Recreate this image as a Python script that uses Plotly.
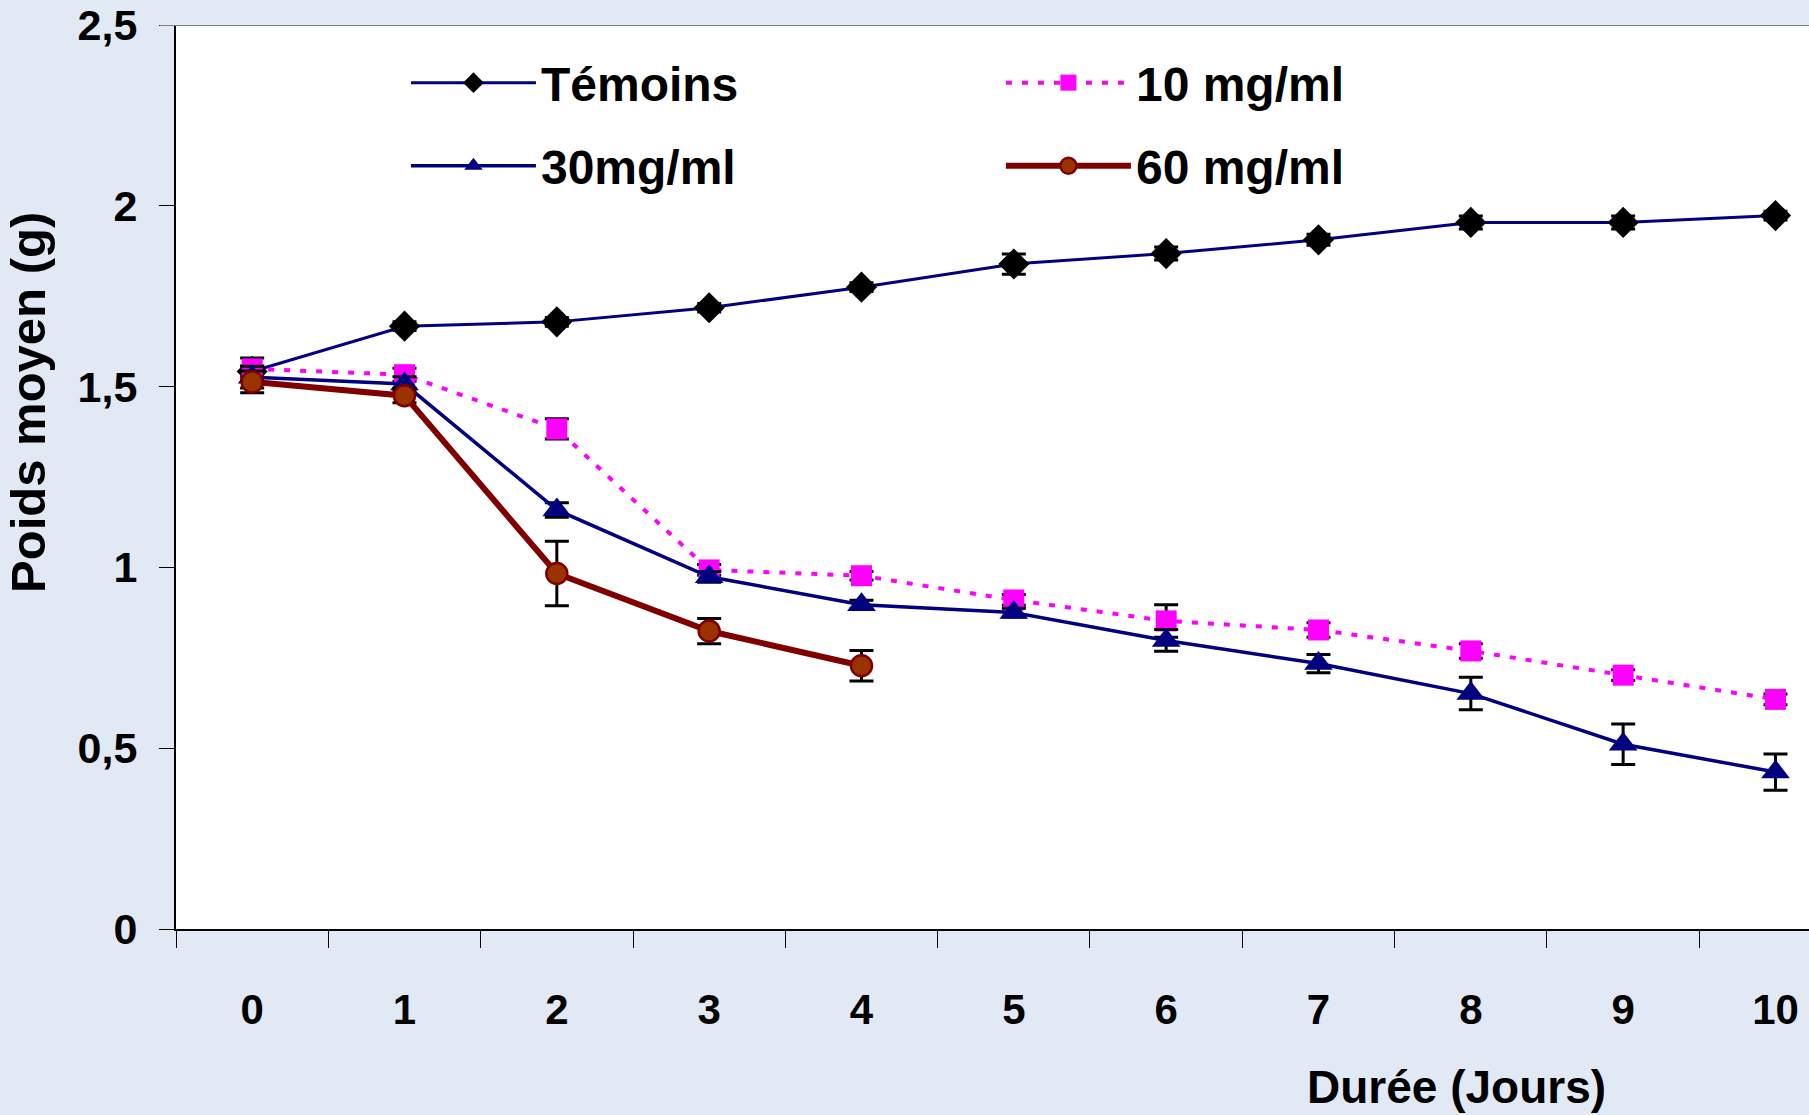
import plotly.graph_objects as go

days = ["0", "1", "2", "3", "4", "5", "6", "7", "8", "9", "10"]
days_60 = ["0", "1", "2", "3", "4"]

temoins = [1.542, 1.667, 1.679, 1.718, 1.775, 1.839, 1.868, 1.906, 1.954, 1.954, 1.973]
temoins_err = [0.015, 0.012, 0.012, 0.012, 0.012, 0.028, 0.018, 0.015, 0.018, 0.018, 0.012]

mg10 = [1.549, 1.533, 1.383, 0.993, 0.977, 0.910, 0.852, 0.827, 0.769, 0.702, 0.635]
mg10_err = [0.03, 0.018, 0.028, 0.015, 0.012, 0.015, 0.045, 0.02, 0.02, 0.015, 0.015]

mg30 = [1.526, 1.507, 1.159, 0.974, 0.897, 0.875, 0.798, 0.734, 0.651, 0.511, 0.434]
mg30_err = [0.03, 0.02, 0.02, 0.015, 0.012, 0.012, 0.03, 0.025, 0.045, 0.056, 0.05]

mg60 = [1.513, 1.475, 0.983, 0.824, 0.728]
mg60_err = [0.03, 0.02, 0.089, 0.035, 0.042]

y_ticks = [0, 0.5, 1, 1.5, 2, 2.5]

BG = "#e0e9f4"
SANS = "Liberation Sans, Arial"

err_style = dict(type="data", thickness=3, width=12, color="black")

fig = go.Figure()
fig.add_trace(go.Scatter(
    x=days, y=temoins, name="Témoins", mode="lines+markers", legend="legend",
    line=dict(color="#000080", width=3),
    marker=dict(symbol="diamond", size=24, color="black"),
    error_y=dict(array=temoins_err, **err_style),
))
fig.add_trace(go.Scatter(
    x=days, y=mg10, name="10 mg/ml", mode="lines+markers", legend="legend",
    line=dict(color="#ff00ff", width=4, dash="6px,10px"),
    marker=dict(symbol="square", size=21, color="#ff00ff"),
    error_y=dict(array=mg10_err, **err_style),
))
fig.add_trace(go.Scatter(
    x=days, y=mg30, name="30mg/ml", mode="lines+markers", legend="legend2",
    line=dict(color="#000080", width=3.5),
    marker=dict(symbol="triangle-up", size=25, color="#000080"),
    error_y=dict(array=mg30_err, **err_style),
))
fig.add_trace(go.Scatter(
    x=days_60, y=mg60, name="60 mg/ml", mode="lines+markers", legend="legend2",
    line=dict(color="#800000", width=6),
    marker=dict(symbol="circle", size=21, color="#993300",
                line=dict(color="#800000", width=2.5)),
    error_y=dict(array=mg60_err, **err_style),
))

legend_common = dict(
    orientation="h",
    xref="container", yref="container",
    x=0.2244, xanchor="left", yanchor="middle",
    bgcolor="rgba(0,0,0,0)",
    font=dict(family=SANS, size=48, color="black", weight="bold"),
    entrywidth=455, entrywidthmode="pixels",
    itemwidth=125,
    traceorder="normal",
)

fig.update_layout(
    width=1809, height=1115,
    paper_bgcolor=BG, plot_bgcolor="white",
    separators=", ",
    margin=dict(l=176, r=0, t=25, b=186, autoexpand=False),
    showlegend=True,
    legend=dict(y=0.9256, **legend_common),
    legend2=dict(y=0.8511, **legend_common),
    xaxis=dict(
        type="category", categoryorder="array", categoryarray=days,
        range=[-0.5, 10.22],
        tickson="boundaries", ticks="outside", ticklen=17, tickwidth=1,
        tickcolor="black",
        showline=True, linecolor="black", linewidth=2,
        showgrid=False, zeroline=False,
        tickfont=dict(family=SANS, size=42, color="black", weight="bold"),
        ticklabelstandoff=43,
        ticklabeloverflow="allow",
    ),
    yaxis=dict(
        range=[0, 2.5], tickvals=y_ticks,
        ticks="outside", ticklen=15, tickwidth=1, tickcolor="black",
        showline=True, linecolor="black", linewidth=2,
        showgrid=False, zeroline=False,
        tickfont=dict(family=SANS, size=43, color="black", weight="bold"),
        ticklabelstandoff=13,
        ticklabeloverflow="allow",
    ),
    annotations=[
        dict(text="Poids moyen (g)", xref="paper", yref="paper",
             x=-0.0906, y=0.582, xanchor="center", yanchor="middle",
             textangle=-90, showarrow=False,
             font=dict(family=SANS, size=49, color="black", weight="bold")),
        dict(text="Durée (Jours)", xref="paper", yref="paper",
             x=0.784, y=-0.175, xanchor="center", yanchor="middle",
             showarrow=False,
             font=dict(family=SANS, size=46, color="black", weight="bold")),
    ],
    shapes=[
        dict(type="line", xref="paper", yref="y", x0=-0.01, x1=1, y0=2.5, y1=2.5,
             line=dict(color="#808080", width=2)),
    ],
)

fig.write_html(
    "out.html",
    config={"displayModeBar": False},
    post_script="document.body.style.margin='0';document.body.style.background='%s';" % BG,
)
